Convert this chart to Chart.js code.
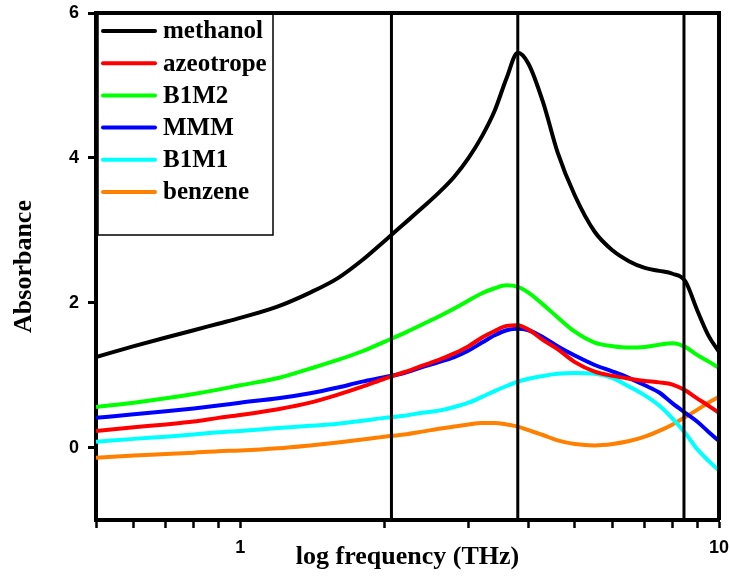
<!DOCTYPE html>
<html>
<head>
<meta charset="utf-8">
<script src="https://cdn.jsdelivr.net/npm/chart.js@4"></script>
<style>
  body { margin: 0; background: #fff; }
</style>
</head>
<body>
<canvas id="myChart" width="730" height="580"></canvas>
<script>
// frecuencias (THz) comunes a todas las curvas
const frecuencias = [0.5, 0.6, 0.7, 0.8, 0.9, 1, 1.2, 1.4, 1.6, 1.8, 2, 2.2, 2.4, 2.6, 2.8, 3, 3.2, 3.4, 3.6, 3.8, 4, 4.3, 4.6, 5, 5.5, 6, 6.5, 7, 7.5, 8, 8.5, 9, 9.5, 10]

const methanol   = [1.25, 1.40, 1.52, 1.62, 1.71, 1.79, 1.95, 2.14, 2.34, 2.59, 2.85, 3.09, 3.31, 3.52, 3.74, 4.00, 4.30, 4.65, 5.10, 5.45, 5.30, 4.75, 4.08, 3.48, 2.98, 2.72, 2.57, 2.48, 2.44, 2.40, 2.30, 1.90, 1.55, 1.32]
const azeotrope  = [0.23, 0.28, 0.32, 0.36, 0.41, 0.45, 0.53, 0.62, 0.73, 0.84, 0.95, 1.04, 1.13, 1.21, 1.30, 1.40, 1.52, 1.61, 1.68, 1.69, 1.63, 1.48, 1.36, 1.18, 1.05, 0.99, 0.95, 0.92, 0.90, 0.87, 0.79, 0.68, 0.58, 0.48]
const b1m2       = [0.56, 0.62, 0.68, 0.74, 0.80, 0.86, 0.96, 1.09, 1.21, 1.33, 1.46, 1.58, 1.70, 1.81, 1.92, 2.03, 2.13, 2.20, 2.24, 2.22, 2.14, 1.97, 1.80, 1.60, 1.45, 1.40, 1.38, 1.39, 1.42, 1.44, 1.39, 1.28, 1.19, 1.10]
const mmm        = [0.41, 0.46, 0.50, 0.54, 0.58, 0.62, 0.68, 0.75, 0.83, 0.91, 0.97, 1.03, 1.11, 1.18, 1.25, 1.34, 1.45, 1.55, 1.62, 1.64, 1.62, 1.52, 1.40, 1.27, 1.14, 1.05, 0.96, 0.86, 0.76, 0.61, 0.48, 0.36, 0.22, 0.09]
const b1m1       = [0.08, 0.12, 0.15, 0.18, 0.21, 0.23, 0.27, 0.30, 0.33, 0.37, 0.41, 0.44, 0.48, 0.51, 0.56, 0.62, 0.70, 0.78, 0.85, 0.91, 0.95, 0.99, 1.02, 1.03, 1.02, 0.96, 0.84, 0.72, 0.58, 0.40, 0.20, -0.02, -0.18, -0.32]
const benzene    = [-0.14, -0.11, -0.09, -0.07, -0.05, -0.04, -0.01, 0.03, 0.07, 0.11, 0.15, 0.18, 0.22, 0.26, 0.29, 0.32, 0.34, 0.34, 0.32, 0.29, 0.24, 0.17, 0.10, 0.05, 0.03, 0.05, 0.09, 0.15, 0.23, 0.32, 0.42, 0.52, 0.62, 0.70]

const nombres = ['methanol', 'azeotrope', 'B1M2', 'MMM', 'B1M1', 'benzene']
const colores = ['#000000', '#ff0000', '#00ff00', '#0000ff', '#00ffff', '#ff8000']
const series  = [methanol, azeotrope, b1m2, mmm, b1m1, benzene]

// lineas verticales (THz)
const lineasV = [2.07, 3.8, 8.45]

// marcas de los ejes
const ticksX = [0.5, 0.6, 0.7, 0.8, 0.9, 1, 2, 3, 4, 5, 6, 7, 8, 9, 10]
const etiquetasX = [1, 10]
const ticksY = [0, 2, 4, 6]

const datasets = series.map((valores, i) => ({
  label: nombres[i],
  data: frecuencias.map((f, j) => ({ x: f, y: valores[j] })),
  borderColor: colores[i],
  borderWidth: 4,
  pointRadius: 0,
  cubicInterpolationMode: 'monotone',
  order: 2
}))

lineasV.forEach(v => {
  datasets.push({
    label: '',
    esLinea: true,
    data: [{ x: v, y: -1 }, { x: v, y: 6 }],
    borderColor: '#000',
    borderWidth: 3,
    pointRadius: 0,
    order: 1
  })
})

const marco = { // marco superior/derecho y leyenda
  id: 'marco',
  afterDraw(chart) {
    const ctx = chart.ctx
    const a = chart.chartArea
    ctx.save()
    ctx.strokeStyle = '#000'
    ctx.lineWidth = 4
    ctx.beginPath()
    ctx.moveTo(a.left, a.top)
    ctx.lineTo(a.right, a.top)
    ctx.lineTo(a.right, a.bottom)
    ctx.stroke()

    // leyenda
    ctx.fillStyle = '#fff'
    ctx.fillRect(98, a.top + 2, 175, 220)
    ctx.lineWidth = 1.5
    ctx.strokeRect(98, a.top, 175, 222)
    ctx.font = 'bold 25px "Liberation Serif", "Times New Roman", serif'
    ctx.textBaseline = 'middle'
    ctx.lineCap = 'round'
    chart.data.datasets.filter(d => !d.esLinea).forEach((d, i) => {
      const y = a.top + 18 + i * 32.2
      ctx.strokeStyle = d.borderColor
      ctx.lineWidth = 4
      ctx.beginPath()
      ctx.moveTo(103, y)
      ctx.lineTo(155, y)
      ctx.stroke()
      ctx.fillStyle = '#000'
      ctx.fillText(d.label, 163, y + 1)
    })
    ctx.restore()
  }
}

new Chart(document.getElementById('myChart'), {
  type: 'line',
  data: { datasets },
  options: {
    responsive: false,
    animation: false,
    layout: { padding: { top: 13, right: 11, left: 0, bottom: 0 } },
    plugins: { legend: { display: false }, tooltip: { enabled: false } },
    scales: {
      x: {
        type: 'logarithmic',
        min: 0.5,
        max: 10,
        afterFit: s => { s.height = 60; s.paddingLeft = 0; s.paddingRight = 0 },
        afterBuildTicks: s => { s.ticks = ticksX.map(v => ({ value: v })) },
        border: { color: '#000', width: 4 },
        grid: { drawOnChartArea: false, tickLength: 8, tickColor: '#000', tickWidth: 2.5 },
        ticks: {
          color: '#000',
          padding: 9,
          autoSkip: false,
          maxRotation: 0,
          font: { family: '"Liberation Sans", Arial, sans-serif', size: 18, weight: 'bold' },
          callback: v => etiquetasX.includes(v) ? String(v) : ''
        },
        title: {
          display: true,
          text: 'log frequency (THz)',
          color: '#000',
          padding: { top: 0, bottom: 7 },
          font: { family: '"Liberation Serif", "Times New Roman", serif', size: 26, weight: 'bold' }
        }
      },
      y: {
        min: -1,
        max: 6,
        afterFit: s => { s.width = 96; s.paddingTop = 0; s.paddingBottom = 0 },
        afterBuildTicks: s => { s.ticks = ticksY.map(v => ({ value: v })) },
        border: { color: '#000', width: 4 },
        grid: { drawOnChartArea: false, tickLength: 8, tickColor: '#000', tickWidth: 3 },
        ticks: {
          color: '#000',
          padding: 9,
          font: { family: '"Liberation Sans", Arial, sans-serif', size: 18, weight: 'bold' }
        },
        title: {
          display: true,
          text: 'Absorbance',
          color: '#000',
          padding: { top: 9, bottom: 0 },
          font: { family: '"Liberation Serif", "Times New Roman", serif', size: 26, weight: 'bold' }
        }
      }
    }
  },
  plugins: [marco]
})
</script>
</body>
</html>
